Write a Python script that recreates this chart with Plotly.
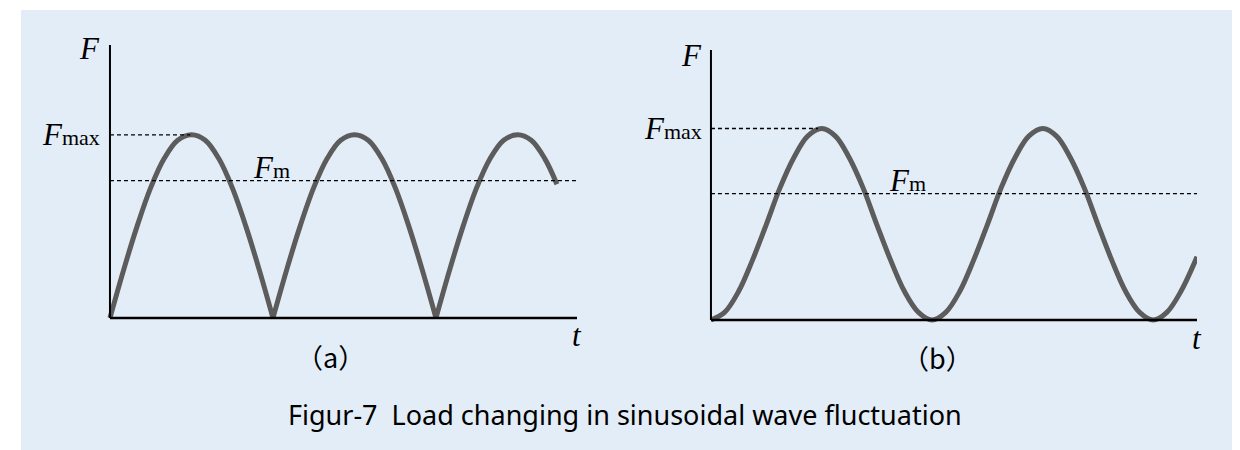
import plotly.graph_objects as go

# panel (a): rectified sine (t in arbitrary units, F relative to Fmax)
t_a = [0, 0.29, 0.58, 0.87, 1.16, 1.45, 1.75, 2.04, 2.33, 2.62, 2.91, 3.20, 3.49, None,
       3.49, 3.78, 4.07, 4.36, 4.65, 4.94, 5.24, 5.53, 5.82, 6.11, 6.40, 6.69, 6.98, None,
       6.98, 7.27, 7.56, 7.85, 8.14, 8.43, 8.73, 9.02, 9.31, 9.57]
F_a = [0, 0.26, 0.5, 0.71, 0.87, 0.97, 1.0, 0.97, 0.87, 0.71, 0.5, 0.26, 0, None,
       0, 0.26, 0.5, 0.71, 0.87, 0.97, 1.0, 0.97, 0.87, 0.71, 0.5, 0.26, 0, None,
       0, 0.26, 0.5, 0.71, 0.87, 0.97, 1.0, 0.97, 0.87, 0.73]
Fmax_a, Fm_a, tpeak_a = 1.0, 0.75, 1.72

# panel (b): offset sine
t_b = [0, 0.28, 0.57, 0.85, 1.14, 1.42, 1.71, 1.99, 2.28, 2.56, 2.84, 3.13, 3.41, 3.70, 3.98, 4.27,
       4.55, 4.83, 5.12, 5.40, 5.69, 5.97, 6.26, 6.54, 6.83, 7.11, 7.39, 7.68, 7.96, 8.25, 8.53, 8.82,
       9.10, 9.38, 9.67, 10.0]
F_b = [0, 0.04, 0.15, 0.31, 0.5, 0.69, 0.85, 0.96, 1.0, 0.96, 0.85, 0.69, 0.5, 0.31, 0.15, 0.04,
       0, 0.04, 0.15, 0.31, 0.5, 0.69, 0.85, 0.96, 1.0, 0.96, 0.85, 0.69, 0.5, 0.31, 0.15, 0.04,
       0, 0.04, 0.15, 0.33]
Fmax_b, Fm_b, tpeak_b = 1.0, 0.66, 2.2

# the page body adds an 8px margin, so the figure is drawn 8px smaller and everything shifted
OFF = 8
W, H = 1240 - OFF, 450 - OFF
BG = "#e3edf7"
CURVE = "#5c5c5c"
SERIF = "Liberation Serif"
SANS = "Noto Sans"


def px(x):
    return (x - OFF) / W


def py(y):
    return 1 - (y - OFF) / H


def fsub(s):
    # italic F with an upright subscript on the same baseline
    return "<i>F</i><span style='font-size:22px'>" + s + "</span>"


fig = go.Figure()
fig.add_trace(go.Scatter(x=t_a, y=F_a, mode="lines", line=dict(color=CURVE, width=5, shape="spline"),
                         connectgaps=False, xaxis="x", yaxis="y", hoverinfo="skip"))
fig.add_trace(go.Scatter(x=t_b, y=F_b, mode="lines", line=dict(color=CURVE, width=5, shape="spline"),
                         xaxis="x2", yaxis="y2", hoverinfo="skip"))

ax = dict(showgrid=False, zeroline=False, showticklabels=False, ticks="", showline=False, fixedrange=True)
fig.update_layout(
    width=W, height=H,
    margin=dict(l=0, r=0, t=0, b=0),
    paper_bgcolor="white", plot_bgcolor="rgba(0,0,0,0)",
    showlegend=False,
    xaxis=dict(ax, domain=[px(105.3), px(577)], range=[-0.1, 10]),
    yaxis=dict(ax, domain=[py(327.15), py(45)], range=[-0.05, 1.49]),
    xaxis2=dict(ax, domain=[px(706.1), px(1197)], range=[-0.1, 10], anchor="y2"),
    yaxis2=dict(ax, domain=[py(329.6), py(50)], range=[-0.05, 1.41], anchor="x2"),
)

shapes = [dict(type="rect", xref="paper", yref="paper", x0=px(21), x1=px(1232), y0=0, y1=py(10),
               fillcolor=BG, line_width=0, layer="below")]
panels = [("x", "y", 1.49, Fmax_a, Fm_a, tpeak_a), ("x2", "y2", 1.41, Fmax_b, Fm_b, tpeak_b)]
for xr, yr, ytop, fmax, fm, tp in panels:
    shapes += [
        dict(type="line", xref=xr, yref=yr, x0=0, x1=10, y0=0, y1=0, line=dict(color="black", width=2.5)),
        dict(type="line", xref=xr, yref=yr, x0=0, x1=0, y0=0, y1=ytop, line=dict(color="black", width=2)),
        dict(type="line", xref=xr, yref=yr, x0=0, x1=tp, y0=fmax, y1=fmax,
             line=dict(color="black", width=1.3, dash="4px,3px")),
        dict(type="line", xref=xr, yref=yr, x0=0, x1=10, y0=fm, y1=fm,
             line=dict(color="black", width=1.3, dash="4px,3px")),
    ]
fig.update_layout(shapes=shapes)

serif = dict(family=SERIF, size=31, color="black")
cap = dict(family="Noto Sans CJK JP", size=27, color="black")
ann = [
    # panel (a)
    dict(xref="x", yref="y", x=0, y=1.47, xshift=-8, text="<i>F</i>", xanchor="right", font=serif),
    dict(xref="x", yref="y", x=0, y=1.0, xshift=-8, text=fsub("max"), xanchor="right", font=serif),
    dict(xref="x", yref="y", x=3.45, y=0.82, text=fsub("m"), xanchor="center", font=serif),
    dict(xref="x", yref="y", x=10, y=0, yshift=-18, text="<i>t</i>", xanchor="center", font=serif),
    # panel (b)
    dict(xref="x2", yref="y2", x=0, y=1.38, xshift=-7, text="<i>F</i>", xanchor="right", font=serif),
    dict(xref="x2", yref="y2", x=0, y=1.0, xshift=-7, text=fsub("max"), xanchor="right", font=serif),
    dict(xref="x2", yref="y2", x=4.05, y=0.73, text=fsub("m"), xanchor="center", font=serif),
    dict(xref="x2", yref="y2", x=10, y=0, yshift=-18, text="<i>t</i>", xanchor="center", font=serif),
    # sub captions and title
    dict(xref="paper", yref="paper", x=px(330), y=py(356), text="（a）", xanchor="center", font=cap),
    dict(xref="paper", yref="paper", x=px(937), y=py(357), text="（b）", xanchor="center", font=cap),
    dict(xref="paper", yref="paper", x=px(625), y=py(414), xanchor="center",
         text="Figur-7  Load changing in sinusoidal wave fluctuation",
         font=dict(family=SANS, size=27, color="black")),
]
for a in ann:
    a.setdefault("showarrow", False)
    a.setdefault("yanchor", "middle")
fig.update_layout(annotations=ann)

fig.write_html("out.html")
